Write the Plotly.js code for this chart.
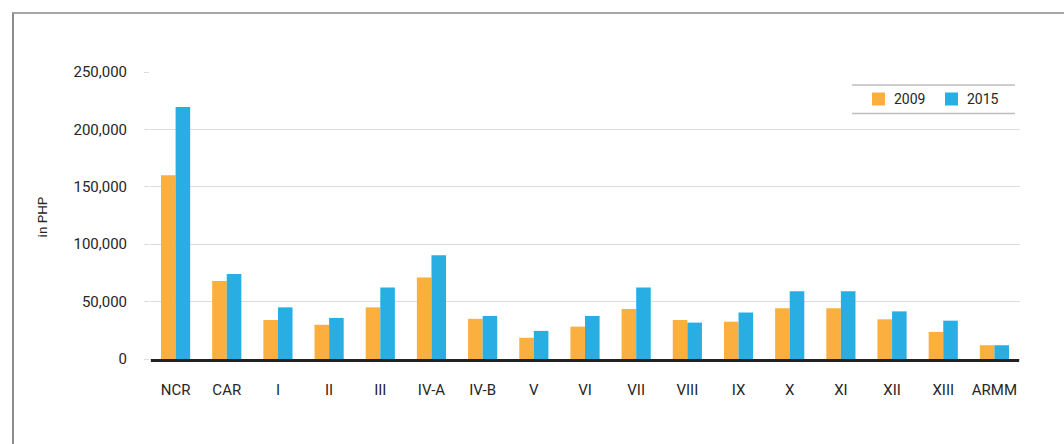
<!DOCTYPE html>
<html>
<head>
<meta charset="utf-8">
<script src="https://cdn.plot.ly/plotly-3.0.1.min.js"></script>
<style>
html,body{margin:0;padding:0;background:#fff;}
#wrap{position:relative;width:1064px;height:444px;overflow:hidden;}
#chart{position:absolute;left:0;top:0;width:1064px;height:444px;}
#frame{position:absolute;left:12px;top:12px;width:1100px;height:500px;border-top:2px solid #a6a6a6;border-left:2px solid #8c8c8c;pointer-events:none;}
</style>
</head>
<body>
<div id="wrap"><div id="chart"></div><div id="frame"></div></div>
<script>
const regions = ["NCR","CAR","I","II","III","IV-A","IV-B","V","VI","VII","VIII","IX","X","XI","XII","XIII","ARMM"];
const values2009 = [160000,68000,34000,29800,45000,71000,35000,18500,28200,43600,34000,32500,44200,44200,34600,23600,12000];
const values2015 = [219500,74000,45000,35800,62300,90300,37500,24500,37500,62300,31700,40500,59000,59000,41500,33400,12000];
const seriesNames = ["2009","2015"];
const seriesColors = ["#FBAF3E","#29AEE4"];
const tickVals = [0,50000,100000,150000,200000,250000];

const font = {family:"Roboto, sans-serif", size:15, color:"#262626"};

const traces = [
  {type:"bar", name:seriesNames[0], x:regions, y:values2009, marker:{color:seriesColors[0]}, hoverinfo:"x+y"},
  {type:"bar", name:seriesNames[1], x:regions, y:values2015, marker:{color:seriesColors[1]}, hoverinfo:"x+y"}
];

// plot area: x 150..1020 (870px), y 72..362 (290px)
const px = x => (x - 150) / 870;
const py = y => (362 - y) / 290;

const legendShapes = [];
const legendAnn = [];
const legSquareX = [872, 945];
seriesNames.forEach((n, i) => {
  legendShapes.push({type:"rect", xref:"paper", yref:"paper",
    x0:px(legSquareX[i]), x1:px(legSquareX[i] + 13), y0:py(105.5), y1:py(92.5),
    fillcolor:seriesColors[i], line:{width:0}});
  legendAnn.push({xref:"paper", yref:"paper", x:px(legSquareX[i] + 20), y:py(99),
    xanchor:"left", yanchor:"middle", text:n, showarrow:false,
    font:{family:"Roboto, sans-serif", size:14, color:"#262626"}});
});

const layout = {
  width:1064, height:444,
  margin:{l:150, r:44, t:72, b:82, pad:0},
  paper_bgcolor:"rgba(0,0,0,0)", plot_bgcolor:"rgba(0,0,0,0)",
  font:font,
  barmode:"group", bargap:0.43, bargroupgap:0,
  showlegend:false,
  xaxis:{type:"category", showgrid:false, zeroline:false, showline:false,
         ticks:"outside", ticklen:14, tickcolor:"rgba(0,0,0,0)", tickfont:font},
  yaxis:{range:[-2600, 250000], tickvals:tickVals, tickformat:",d",
         showgrid:true, gridcolor:"#dcdcdc", gridwidth:1, zeroline:false, showline:false,
         ticks:"outside", ticklen:5, tickcolor:"#dcdcdc", tickwidth:1,
         ticklabelstandoff:14, tickfont:font,
         title:{text:"in PHP", font:{family:"Roboto, sans-serif", size:13.5, color:"#262626"}, standoff:22}},
  annotations:legendAnn,
  shapes:[
    {type:"line", xref:"paper", yref:"y", x0:0.001, x1:0.999, y0:-1700, y1:-1700, line:{color:"#222", width:4}, layer:"above"},
    {type:"line", xref:"paper", yref:"paper", x0:px(852), x1:px(1015), y0:py(85), y1:py(85), line:{color:"#bdbdbd", width:1.5}},
    {type:"line", xref:"paper", yref:"paper", x0:px(852), x1:px(1015), y0:py(113.5), y1:py(113.5), line:{color:"#bdbdbd", width:1.5}}
  ].concat(legendShapes)
};

Plotly.newPlot("chart", traces, layout, {displayModeBar:false, staticPlot:true});
</script>
</body>
</html>
